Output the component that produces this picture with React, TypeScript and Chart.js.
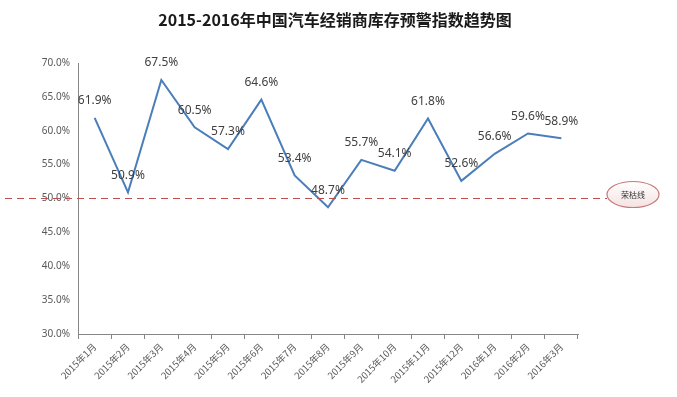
import React, { useEffect, useRef } from "react";
import { Chart, registerables } from "chart.js";

Chart.register(...registerables);

const TITLE = "2015-2016年中国汽车经销商库存预警指数趋势图";
const categories = [
  "2015年1月", "2015年2月", "2015年3月", "2015年4月", "2015年5月",
  "2015年6月", "2015年7月", "2015年8月", "2015年9月", "2015年10月",
  "2015年11月", "2015年12月", "2016年1月", "2016年2月", "2016年3月",
];
const values = [61.9, 50.9, 67.5, 60.5, 57.3, 64.6, 53.4, 48.7, 55.7, 54.1, 61.8, 52.6, 56.6, 59.6, 58.9];
const thresholdValue = 50;
const thresholdLabel = "荣枯线";

const W = 677;
const H = 397;

const overlayPlugin = {
  id: "overlay",
  afterDatasetsDraw(chart: any) {
    const ctx = chart.ctx;
    const y = chart.scales.y;
    const meta = chart.getDatasetMeta(0);
    ctx.save();
    // data labels
    ctx.font = "12px 'Noto Sans', sans-serif";
    ctx.fillStyle = "#404040";
    ctx.textAlign = "center";
    ctx.textBaseline = "middle";
    meta.data.forEach((pt: any, i: number) => {
      ctx.fillText(values[i].toFixed(1) + "%", pt.x, pt.y - 17);
    });
    // threshold line
    const ty = y.getPixelForValue(thresholdValue);
    ctx.strokeStyle = "#c0504d";
    ctx.lineWidth = 1;
    ctx.setLineDash([7, 5]);
    ctx.beginPath();
    ctx.moveTo(5, ty);
    ctx.lineTo(607, ty);
    ctx.stroke();
    ctx.setLineDash([]);
    // ellipse callout
    const cx = 633, cy = ty - 4;
    const grad = ctx.createLinearGradient(0, cy - 13, 0, cy + 13);
    grad.addColorStop(0, "#ffffff");
    grad.addColorStop(1, "#f4e2e2");
    ctx.fillStyle = grad;
    ctx.strokeStyle = "#c67b79";
    ctx.lineWidth = 1.2;
    ctx.beginPath();
    ctx.ellipse(cx, cy, 26, 13, 0, 0, Math.PI * 2);
    ctx.fill();
    ctx.stroke();
    ctx.fillStyle = "#333333";
    ctx.font = "8px 'Noto Sans CJK SC', sans-serif";
    ctx.fillText(thresholdLabel, cx, cy);
    // title
    ctx.font = "bold 16px 'Noto Sans CJK SC', sans-serif";
    ctx.fillStyle = "#1a1a1a";
    ctx.fillText(TITLE, 335, 20);
    ctx.restore();
  },
};

export default function App() {
  const ref = useRef<HTMLCanvasElement | null>(null);
  useEffect(() => {
    if (!ref.current) return;
    const chart = new Chart(ref.current, {
      type: "line",
      data: {
        labels: categories,
        datasets: [
          {
            data: values,
            borderColor: "#4a7ebb",
            borderWidth: 2,
            pointRadius: 0,
            tension: 0,
            fill: false,
          },
        ],
      },
      options: {
        responsive: false,
        animation: false,
        layout: { padding: { left: 0, right: 99, top: 63, bottom: 0 } },
        plugins: { legend: { display: false }, tooltip: { enabled: false }, title: { display: false } },
        scales: {
          x: {
            offset: true,
            grid: { display: true, drawOnChartArea: false, drawTicks: true, tickLength: 5, offset: true, color: "#868686" },
            border: { display: true, color: "#868686" },
            ticks: {
              autoSkip: false,
              maxRotation: 45,
              minRotation: 45,
              color: "#595959",
              font: { size: 9.5, family: "'Noto Sans CJK SC', sans-serif" },
              padding: 2,
            },
            afterFit: (s: any) => { s.height = 63; },
          },
          y: {
            min: 30,
            max: 70,
            grid: { display: false, drawTicks: false },
            border: { display: true, color: "#868686" },
            ticks: {
              stepSize: 5,
              color: "#595959",
              padding: 8,
              font: { size: 10, family: "'Noto Sans', sans-serif" },
              callback: (v: any) => Number(v).toFixed(1) + "%",
            },
            afterFit: (s: any) => { s.width = 78; },
          },
        },
      },
      plugins: [overlayPlugin],
    });
    return () => chart.destroy();
  }, []);
  return (
    <div style={{ position: "absolute", left: 0, top: 0, width: W, height: H, background: "#fff" }}>
      <canvas ref={ref} width={W} height={H} style={{ width: W, height: H }} />
    </div>
  );
}
